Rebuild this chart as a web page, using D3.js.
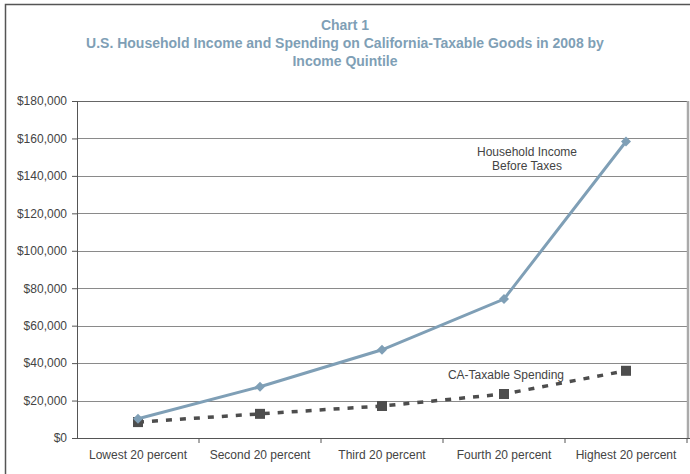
<!DOCTYPE html>
<html>
<head>
<meta charset="utf-8">
<script src="https://cdn.jsdelivr.net/npm/d3@7"></script>
<style>
  body { margin: 0; background: #fff; }
  svg { display: block; font-family: "Liberation Sans", Arial, sans-serif; }
</style>
</head>
<body>
<div id="chart"></div>
<script>
const quintiles = ["Lowest 20 percent", "Second 20 percent", "Third 20 percent", "Fourth 20 percent", "Highest 20 percent"];
const incomeBeforeTaxes = [10263, 27371, 47105, 74202, 158388];
const taxableSpending = [8500, 12900, 17100, 23500, 35900];
const yTicks = [0, 20000, 40000, 60000, 80000, 100000, 120000, 140000, 160000, 180000];
const titleLines = ["Chart 1", "U.S. Household Income and Spending on California-Taxable Goods in 2008 by", "Income Quintile"];

const W = 690, H = 474;
const margin = { top: 101, right: 3, bottom: 36, left: 77 };
const width = W - margin.left - margin.right;
const height = H - margin.top - margin.bottom;

const svg = d3.select("#chart").append("svg").attr("width", W).attr("height", H);

// outer frame
svg.append("path")
  .attr("d", "M5.5,474 L5.5,4.5 L690,4.5")
  .attr("fill", "none").attr("stroke", "#555").attr("stroke-width", 1.5);

// title
svg.append("g").selectAll("text")
  .data(titleLines)
  .join("text")
  .attr("x", W / 2)
  .attr("y", (d, i) => 30 + i * 18)
  .attr("text-anchor", "middle")
  .attr("font-size", 14)
  .attr("font-weight", "bold")
  .attr("fill", "#7f9fb6")
  .text((d) => d);

const g = svg.append("g").attr("transform", `translate(${margin.left},${margin.top})`);

const x = d3.scaleBand().domain(quintiles).range([0, width]);
const y = d3.scaleLinear().domain([0, 180000]).range([height, 0]);
const cx = (d) => x(d) + x.bandwidth() / 2;

// gridlines
g.append("g").selectAll("line")
  .data(yTicks.slice(1))
  .join("line")
  .attr("x1", 0).attr("x2", width)
  .attr("y1", (d) => Math.round(y(d)) + 0.5).attr("y2", (d) => Math.round(y(d)) + 0.5)
  .attr("stroke", (d) => (d === 180000 ? "#666" : "#8a8a8a"))
  .attr("stroke-width", 1);

// right border
g.append("line")
  .attr("x1", width + 1).attr("x2", width + 1)
  .attr("y1", 0).attr("y2", height)
  .attr("stroke", "#aaa").attr("stroke-width", 2.5);

// y axis
const yAxis = g.append("g")
  .call(d3.axisLeft(y).tickValues(yTicks).tickSize(5).tickPadding(5)
    .tickFormat((d) => "$" + d3.format(",")(d)));
yAxis.select(".domain").attr("stroke", "#555");
yAxis.selectAll(".tick line").attr("stroke", "#555");
yAxis.selectAll("text").attr("font-size", 12).attr("fill", "#444")
  .attr("font-family", "'Liberation Sans', Arial, sans-serif");

// x axis
const xAxis = g.append("g")
  .attr("transform", `translate(0,${height})`)
  .call(d3.axisBottom(x).tickSize(0).tickPadding(12));
xAxis.select(".domain").attr("stroke", "#555").attr("d", `M-5,0.5H${width + 3}`);
xAxis.selectAll("text").attr("font-size", 12).attr("fill", "#444")
  .attr("font-family", "'Liberation Sans', Arial, sans-serif");
g.append("g").selectAll("line")
  .data(quintiles.slice(1).concat([null]))
  .join("line")
  .attr("x1", (d, i) => (i + 1) * x.bandwidth()).attr("x2", (d, i) => (i + 1) * x.bandwidth())
  .attr("y1", height).attr("y2", height + 5)
  .attr("stroke", "#555");

// spending line
const spendPts = quintiles.map((q, i) => [cx(q), y(taxableSpending[i])]);
g.append("path")
  .attr("d", d3.line()(spendPts))
  .attr("fill", "none").attr("stroke", "#4d4d4d").attr("stroke-width", 3.5)
  .attr("stroke-dasharray", "6,8");
g.append("g").selectAll("rect")
  .data(spendPts)
  .join("rect")
  .attr("x", (d) => d[0] - 5).attr("y", (d) => d[1] - 5)
  .attr("width", 10).attr("height", 10)
  .attr("fill", "#4d4d4d");

// income line
const incPts = quintiles.map((q, i) => [cx(q), y(incomeBeforeTaxes[i])]);
g.append("path")
  .attr("d", d3.line()(incPts))
  .attr("fill", "none").attr("stroke", "#7f9fb6").attr("stroke-width", 3);
g.append("g").selectAll("path")
  .data(incPts)
  .join("path")
  .attr("d", "M0,-5L5,0L0,5L-5,0Z")
  .attr("transform", (d) => `translate(${d[0]},${d[1]})`)
  .attr("fill", "#7f9fb6");

// annotations
const ann = g.append("g").attr("font-size", 12).attr("fill", "#444").attr("text-anchor", "middle");
ann.append("text").attr("x", 527 - margin.left).attr("y", 156 - margin.top).text("Household Income");
ann.append("text").attr("x", 527 - margin.left).attr("y", 170 - margin.top).text("Before Taxes");
ann.append("text").attr("x", 506 - margin.left).attr("y", 379 - margin.top).text("CA-Taxable Spending");
</script>
</body>
</html>
